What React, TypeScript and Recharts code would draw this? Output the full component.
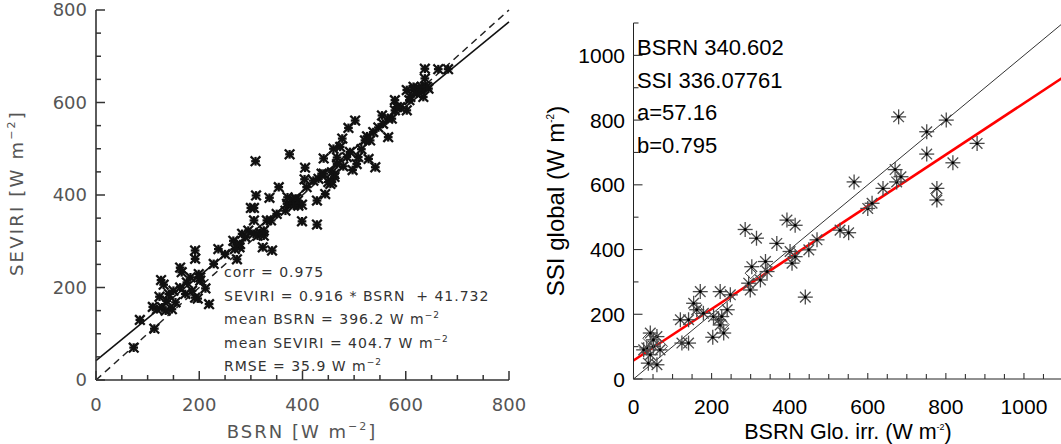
import React from 'react'
import { ScatterChart, Scatter, XAxis, YAxis, ReferenceLine } from 'recharts'

// left panel: SEVIRI vs BSRN (W m-2)
const leftBsrn = [
  73, 85, 113, 110, 123, 126, 131, 128, 135, 147, 141, 154, 163, 166, 173, 176, 186, 192, 192, 192,
  199, 202, 212, 219, 197, 237, 250, 273, 266, 274, 283, 278, 295, 300, 306, 306, 309, 310, 313, 318,
  325, 323, 331, 336, 339, 341, 354, 367, 371, 375, 383, 388, 392, 399, 399, 404, 405, 428, 428, 431,
  441, 444, 441, 454, 457, 462, 473, 479, 477, 489, 497, 502, 505, 508, 514, 525, 531, 528, 541, 547,
  554, 566, 573, 579, 579, 602, 607, 615, 625, 631, 634, 637, 637, 644, 663, 682, 589, 379, 386, 391,
  383, 467, 460, 450, 457, 462, 602, 615, 628, 641, 621, 609, 583, 566, 556, 537, 521, 492, 486, 467,
  437, 421, 408, 370, 350, 325, 305, 289, 279, 269, 228, 202, 183, 163, 150, 137, 118,
]
const leftSeviri = [
  70, 130, 111, 158, 180, 216, 206, 157, 150, 153, 186, 168, 243, 233, 186, 211, 193, 280, 262, 178,
  229, 215, 198, 164, 176, 283, 272, 261, 301, 292, 316, 287, 323, 372, 372, 345, 473, 399, 312, 318,
  312, 287, 345, 394, 345, 280, 417, 366, 395, 488, 388, 392, 377, 343, 379, 434, 459, 388, 336, 435,
  479, 402, 446, 424, 449, 445, 504, 462, 522, 545, 454, 561, 467, 482, 499, 527, 518, 478, 460, 546,
  572, 525, 565, 605, 583, 583, 605, 627, 630, 634, 612, 652, 673, 630, 672, 672, 590, 385, 392, 388,
  377, 481, 500, 428, 428, 439, 627, 634, 627, 634, 619, 612, 590, 565, 554, 536, 518, 493, 482, 467,
  446, 431, 417, 381, 359, 323, 316, 309, 294, 283, 251, 222, 222, 200, 193, 171, 153,
]
const leftFitSlope = 0.916
const leftFitOffset = 41.732
const leftTicks = [0, 50, 100, 150, 200, 250, 300, 350, 400, 450, 500, 550, 600, 650, 700, 750, 800]
const leftLabels = [0, 200, 400, 600, 800]
const leftStats = [
  'corr = 0.975',
  'SEVIRI = 0.916 * BSRN  + 41.732',
  'mean BSRN = 396.2 W m',
  'mean SEVIRI = 404.7 W m',
  'RMSE = 35.9 W m',
]

// right panel: SSI global vs BSRN global irradiance
const rightBsrn = [
  679, 801, 751, 751, 880, 818, 777, 777, 565, 670, 674, 685, 639, 600, 611, 529, 551, 470, 449, 401,
  406, 414, 393, 414, 367, 286, 315, 338, 342, 303, 295, 299, 325, 440, 248, 222, 240, 205, 218, 226,
  222, 231, 203, 171, 154, 162, 179, 120, 141, 124, 141, 43, 60, 34, 51, 68, 26, 38, 60, 43, 51,
]
const rightSsi = [
  810, 800, 764, 695, 728, 668, 589, 553, 609, 647, 609, 625, 589, 527, 543, 460, 452, 430, 399, 394,
  358, 378, 491, 475, 419, 462, 435, 363, 332, 347, 296, 275, 306, 253, 260, 270, 214, 193, 183, 193,
  167, 142, 129, 270, 234, 214, 203, 183, 183, 111, 111, 142, 131, 96, 101, 90, 90, 49, 44, 75, 121,
]
const rightDiamondBsrn = [775, 300, 38, 73, 231, 410, 167]
const rightDiamondSsi = [573, 327, 126, 101, 168, 388, 209]
const rightFitA = 57.16
const rightFitB = 0.795
const rightXTicks = [
  0, 50, 100, 150, 200, 250, 300, 350, 400, 450, 500, 550, 600, 650, 700, 750, 800, 850, 900, 950, 1000,
  1050, 1100,
]
const rightYTicks = [0, 100, 200, 300, 400, 500, 600, 700, 800, 900, 1000, 1100]
const rightLabels = [0, 200, 400, 600, 800, 1000]
const rightNotes = ['BSRN 340.602', 'SSI 336.07761', 'a=57.16', 'b=0.795']

const leftData = leftBsrn.map((x, i) => ({ x, y: leftSeviri[i] }))
const rightData = rightBsrn.map((x, i) => ({ x, y: rightSsi[i] }))
const rightDiamonds = rightDiamondBsrn.map((x, i) => ({ x, y: rightDiamondSsi[i] }))

const DEJAVU = '"DejaVu Sans", sans-serif'
const HELV = '"Liberation Sans", Arial, sans-serif'

type TickOpts = {
  side: 'bottom' | 'left' | 'top' | 'right'
  labels: number[]
  majorLen: number
  minorLen: number
  showLabels: boolean
  offset: number
  dy: number
  font: string
  size: number
  color: string
  stroke: string
  sw: number
}

// inward tick marks (longer on labelled values) plus the label outside
function AxisTick(props: any) {
  const { x, y, payload, opts } = props
  const o: TickOpts = opts
  const v = payload.value
  const major = o.labels.includes(v)
  const len = major ? o.majorLen : o.minorLen
  let d = ''
  let label = null
  if (o.side === 'bottom') {
    d = `M${x},${y}L${x},${y - len}`
    if (o.showLabels && major)
      label = (
        <text x={x} y={y + o.offset} textAnchor="middle" fontFamily={o.font} fontSize={o.size} fill={o.color}>
          {v}
        </text>
      )
  } else if (o.side === 'top') {
    d = `M${x},${y}L${x},${y + len}`
  } else if (o.side === 'left') {
    d = `M${x},${y}L${x + len},${y}`
    if (o.showLabels && major)
      label = (
        <text x={x - o.offset} y={y + o.dy} textAnchor="end" fontFamily={o.font} fontSize={o.size} fill={o.color}>
          {v}
        </text>
      )
  } else {
    d = `M${x},${y}L${x - len},${y}`
  }
  return (
    <g>
      <path d={d} stroke={o.stroke} strokeWidth={o.sw} fill="none" />
      {label}
    </g>
  )
}

const tickFor = (opts: TickOpts) => (p: any) => <AxisTick {...p} opts={opts} />

function BoldStar(p: any) {
  const { cx, cy } = p
  if (cx == null || cy == null) return null
  const d = 4
  const s = 3.2
  return (
    <g stroke="#111" strokeWidth={2.3} strokeLinecap="square">
      <line x1={cx - d} y1={cy - d} x2={cx + d} y2={cy + d} />
      <line x1={cx - d} y1={cy + d} x2={cx + d} y2={cy - d} />
      <line x1={cx - s} y1={cy} x2={cx + s} y2={cy} />
      <line x1={cx} y1={cy - s} x2={cx} y2={cy + s} />
    </g>
  )
}

function ThinStar(p: any) {
  const { cx, cy } = p
  if (cx == null || cy == null) return null
  const r = 7.5
  const d = 5.3
  return (
    <g>
      <g stroke="#4a4a4a" strokeWidth={1.3}>
        <line x1={cx - r} y1={cy} x2={cx + r} y2={cy} />
        <line x1={cx} y1={cy - r} x2={cx} y2={cy + r} />
        <line x1={cx - d} y1={cy - d} x2={cx + d} y2={cy + d} />
        <line x1={cx - d} y1={cy + d} x2={cx + d} y2={cy - d} />
      </g>
      <circle cx={cx} cy={cy} r={1.5} fill="#000" />
    </g>
  )
}

function Diamond(p: any) {
  const { cx, cy } = p
  if (cx == null || cy == null) return null
  const r = 5.5
  return (
    <path
      d={`M${cx},${cy - r}L${cx + r},${cy}L${cx},${cy + r}L${cx - r},${cy}Z`}
      fill="none"
      stroke="#444"
      strokeWidth={1}
    />
  )
}

function LeftPanel() {
  const base = {
    labels: leftLabels,
    majorLen: 9,
    minorLen: 5,
    font: DEJAVU,
    size: 18,
    color: '#555',
    stroke: '#333',
    sw: 1.5,
    dy: 6,
  }
  const axisLine = { stroke: '#333', strokeWidth: 1.6 }
  return (
    <div style={{ position: 'absolute', left: 0, top: 0, width: 530, height: 444 }}>
      <ScatterChart width={530} height={444} margin={{ top: 10, right: 21, bottom: 0, left: 0 }}>
        <XAxis
          type="number"
          dataKey="x"
          domain={[0, 800]}
          ticks={leftTicks}
          interval={0}
          height={64}
          tickSize={0}
          tickMargin={0}
          axisLine={axisLine}
          tickLine={false}
          tick={tickFor({ ...base, side: 'bottom', showLabels: true, offset: 31 })}
        />
        <XAxis
          xAxisId="top"
          orientation="top"
          type="number"
          domain={[0, 800]}
          ticks={leftTicks}
          interval={0}
          height={0}
          tickSize={0}
          tickMargin={0}
          axisLine={axisLine}
          tickLine={false}
          tick={tickFor({ ...base, side: 'top', showLabels: false, offset: 0 })}
        />
        <YAxis
          type="number"
          dataKey="y"
          domain={[0, 800]}
          ticks={leftTicks}
          interval={0}
          width={96}
          tickSize={0}
          tickMargin={0}
          axisLine={axisLine}
          tickLine={false}
          tick={tickFor({ ...base, side: 'left', showLabels: true, offset: 9 })}
        />
        <YAxis
          yAxisId="right"
          orientation="right"
          type="number"
          domain={[0, 800]}
          ticks={leftTicks}
          interval={0}
          width={0}
          tickSize={0}
          tickMargin={0}
          axisLine={axisLine}
          tickLine={false}
          tick={tickFor({ ...base, side: 'right', showLabels: false, offset: 0 })}
        />
        <ReferenceLine
          segment={[
            { x: 0, y: 0 },
            { x: 800, y: 800 },
          ]}
          stroke="#222"
          strokeWidth={1.5}
          strokeDasharray="7 5"
        />
        <ReferenceLine
          segment={[
            { x: 0, y: leftFitOffset },
            { x: 800, y: leftFitSlope * 800 + leftFitOffset },
          ]}
          stroke="#111"
          strokeWidth={1.6}
        />
        <Scatter data={leftData} shape={<BoldStar />} isAnimationActive={false} />
      </ScatterChart>
      <svg width={530} height={444} style={{ position: 'absolute', left: 0, top: 0, pointerEvents: 'none' }}>
        <text
          transform="translate(23,193) rotate(-90)"
          textAnchor="middle"
          fontFamily={DEJAVU}
          fontSize={18}
          fill="#555"
          letterSpacing={2.2}
        >
          SEVIRI [W m<tspan dy={-8} fontSize={11}>−2</tspan>
          <tspan dy={8}>]</tspan>
        </text>
        <text x={302} y={438} textAnchor="middle" fontFamily={DEJAVU} fontSize={18} fill="#555" letterSpacing={2}>
          BSRN [W m<tspan dy={-8} fontSize={11}>−2</tspan>
          <tspan dy={8}>]</tspan>
        </text>
        {leftStats.map((s, i) => (
          <text
            key={s}
            x={224}
            y={277 + i * 23.5}
            fontFamily={DEJAVU}
            fontSize={14}
            fill="#333"
            letterSpacing={1}
            style={{ whiteSpace: 'pre' }}
          >
            {s}
            {i >= 2 ? (
              <tspan dy={-6} fontSize={9}>
                −2
              </tspan>
            ) : null}
          </text>
        ))}
      </svg>
    </div>
  )
}

function RightPanel() {
  const base = {
    labels: rightLabels,
    majorLen: 9,
    minorLen: 5,
    font: HELV,
    size: 21,
    color: '#000',
    stroke: '#333',
    sw: 1.1,
    dy: 7.5,
  }
  const axisLine = { stroke: '#222', strokeWidth: 1 }
  return (
    <div style={{ position: 'absolute', left: 530, top: 0, width: 540, height: 444 }}>
      <ScatterChart width={540} height={444} margin={{ top: 23, right: 7, bottom: 0, left: 0 }}>
        <XAxis
          type="number"
          dataKey="x"
          domain={[0, 1100]}
          ticks={rightXTicks}
          interval={0}
          height={65}
          tickSize={0}
          tickMargin={0}
          axisLine={axisLine}
          tickLine={false}
          tick={tickFor({ ...base, majorLen: 6, minorLen: 5, side: 'bottom', showLabels: true, offset: 35 })}
        />
        <XAxis
          xAxisId="top"
          orientation="top"
          type="number"
          domain={[0, 1100]}
          ticks={rightXTicks}
          interval={0}
          height={0}
          tickSize={0}
          tickMargin={0}
          axisLine={axisLine}
          tickLine={false}
          tick={tickFor({ ...base, majorLen: 6, minorLen: 5, side: 'top', showLabels: false, offset: 0 })}
        />
        <YAxis
          type="number"
          dataKey="y"
          domain={[0, 1100]}
          ticks={rightYTicks}
          interval={0}
          width={103.5}
          tickSize={0}
          tickMargin={0}
          axisLine={axisLine}
          tickLine={false}
          tick={tickFor({ ...base, side: 'left', showLabels: true, offset: 8.5 })}
        />
        <ReferenceLine
          segment={[
            { x: 0, y: 0 },
            { x: 1100, y: 1100 },
          ]}
          stroke="#333"
          strokeWidth={1}
        />
        <Scatter data={rightDiamonds} shape={<Diamond />} isAnimationActive={false} />
        <Scatter data={rightData} shape={<ThinStar />} isAnimationActive={false} />
        <ReferenceLine
          segment={[
            { x: 0, y: rightFitA },
            { x: 1100, y: rightFitA + rightFitB * 1100 },
          ]}
          stroke="#ff0000"
          strokeWidth={2.6}
        />
      </ScatterChart>
      <svg width={540} height={444} style={{ position: 'absolute', left: 0, top: 0, pointerEvents: 'none' }}>
        <text transform="translate(34,201) rotate(-90)" textAnchor="middle" fontFamily={HELV} fontSize={24} fill="#000">
          SSI global (W m<tspan dy={-10} fontSize={10}>-2</tspan>
          <tspan dy={10}>)</tspan>
        </text>
        <text x={318} y={439} textAnchor="middle" fontFamily={HELV} fontSize={21.5} fill="#000">
          BSRN Glo. irr. (W m<tspan dy={-9} fontSize={9}>-2</tspan>
          <tspan dy={9}>)</tspan>
        </text>
        {rightNotes.map((s, i) => (
          <text key={s} x={107} y={55 + i * 32.5} fontFamily={HELV} fontSize={22} fill="#000">
            {s}
          </text>
        ))}
      </svg>
    </div>
  )
}

export default function App() {
  return (
    <div
      style={{
        position: 'absolute',
        left: 0,
        top: 0,
        width: 1061,
        height: 444,
        overflow: 'hidden',
        background: '#fff',
      }}
    >
      <LeftPanel />
      <RightPanel />
    </div>
  )
}
